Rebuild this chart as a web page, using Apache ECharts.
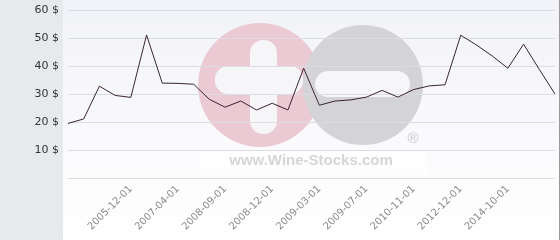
<!DOCTYPE html>
<html>
<head>
<meta charset="utf-8">
<script src="https://cdn.jsdelivr.net/npm/echarts@6/dist/echarts.min.js"></script>
<style>
html,body{margin:0;padding:0;background:#fff;}
#c{width:560px;height:240px;}
</style>
</head>
<body>
<div id="c"></div>
<script>
// Data
var categories = ["", "", "", "", "2005-12-01", "", "", "2007-04-01", "", "", "2008-09-01", "", "", "2008-12-01", "", "", "2009-03-01", "", "", "2009-07-01", "", "", "2010-11-01", "", "", "2012-12-01", "", "", "2014-10-01", "", "", ""];
var prices = [19.6, 21.2, 32.9, 29.6, 28.9, 51.2, 34.0, 33.9, 33.6, 28.2, 25.4, 27.6, 24.4, 26.8, 24.4, 39.3, 26.1, 27.6, 28.0, 29.0, 31.4, 29.0, 31.7, 33.0, 33.4, 51.1, 47.6, 43.7, 39.3, 47.9, 38.9, 30.1];
var yTicks = [0, 10, 20, 30, 40, 50, 60];
var watermarkText = "www.Wine-Stocks.com";

var chart = echarts.init(document.getElementById('c'), null, {renderer: 'canvas'});
chart.setOption({
  animation: false,
  backgroundColor: '#ffffff',
  graphic: [
    {type: 'rect', z: -20, shape: {x: 0, y: 0, width: 63, height: 240}, style: {fill: '#e6eaed'}},
    {type: 'rect', z: -20, shape: {x: 63, y: 0, width: 497, height: 240},
      style: {fill: new echarts.graphic.LinearGradient(0, 0, 0, 1, [{offset: 0, color: '#f2f3f8'}, {offset: 1, color: '#ffffff'}])}},
    {type: 'line', z: -20, shape: {x1: 559.5, y1: 0, x2: 559.5, y2: 240}, style: {stroke: '#9a9a9a', lineWidth: 1}},
    {type: 'circle', z: -15, shape: {cx: 260, cy: 85, r: 62}, style: {fill: '#ebcad3'}},
    {type: 'circle', z: -14, shape: {cx: 363, cy: 85, r: 60}, style: {fill: '#d4d4d6'}},
    {type: 'rect', z: -13, shape: {x: 250, y: 40, width: 27, height: 94, r: 13}, style: {fill: '#f6f6f9'}},
    {type: 'rect', z: -13, shape: {x: 215, y: 66, width: 88, height: 28, r: 13}, style: {fill: '#f6f6f9'}},
    {type: 'rect', z: -13, shape: {x: 315, y: 71, width: 95, height: 26, r: 13}, style: {fill: '#f6f6f9'}},
    {type: 'rect', z: -13, shape: {x: 200, y: 151, width: 227, height: 24}, style: {fill: 'rgba(255,255,255,0.7)'}},
    {type: 'text', z: -12, x: 311, y: 161, style: {text: watermarkText, fill: '#d6d6d8', font: 'bold 15px "Liberation Sans", Arial, sans-serif', textAlign: 'center', textVerticalAlign: 'middle'}},
    {type: 'text', z: -12, x: 413, y: 139, style: {text: '®', fill: '#c8c8ca', font: '15px "Liberation Sans", Arial, sans-serif', textAlign: 'center', textVerticalAlign: 'middle'}}
  ],
  grid: {left: 68, right: 5, top: 10.3, bottom: 61.7, containLabel: false},
  xAxis: {
    type: 'category',
    data: categories,
    boundaryGap: false,
    axisLine: {show: false},
    axisTick: {show: false},
    splitLine: {show: false},
    axisLabel: {
      interval: 0,
      rotate: 45,
      margin: 9,
      color: '#8a8a8a',
      fontSize: 10,
      fontFamily: 'DejaVu Sans'
    }
  },
  yAxis: {
    type: 'value',
    min: yTicks[0],
    max: yTicks[yTicks.length - 1],
    interval: 10,
    axisLine: {show: false},
    axisTick: {show: false},
    splitLine: {lineStyle: {color: '#dcdde2', width: 1}},
    axisLabel: {
      showMinLabel: false,
      margin: 9,
      color: '#333333',
      fontSize: 11,
      fontFamily: 'DejaVu Sans',
      formatter: '{value} $'
    }
  },
  series: [{
    type: 'line',
    data: prices,
    showSymbol: false,
    symbol: 'none',
    lineStyle: {color: '#3a2432', width: 1},
    z: 5
  }]
});
</script>
</body>
</html>
